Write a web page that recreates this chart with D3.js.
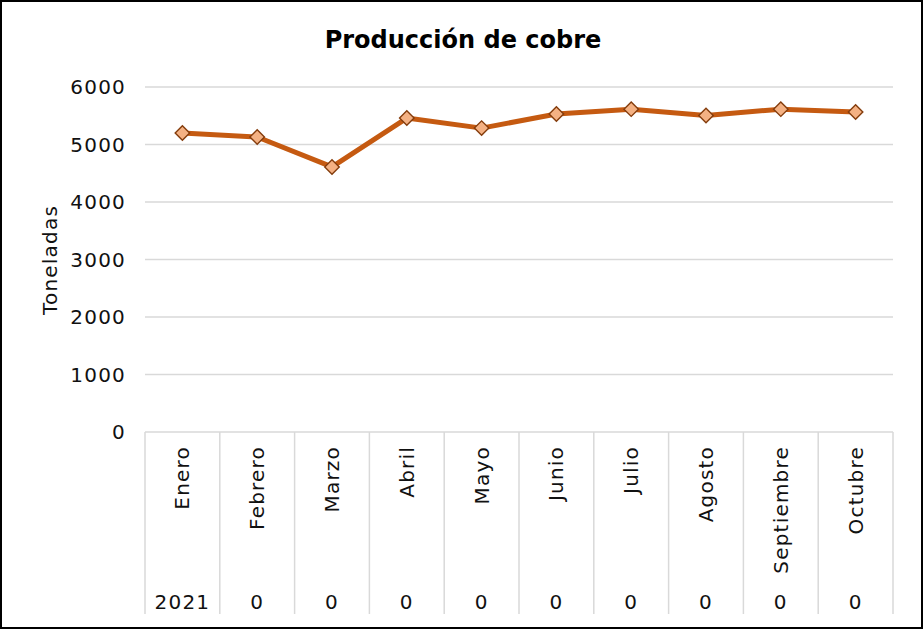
<!DOCTYPE html>
<html>
<head>
<meta charset="utf-8">
<script src="https://cdn.jsdelivr.net/npm/d3@7"></script>
<style>
    body { margin: 0; background: #fff; }
    svg { display: block; font-family: "DejaVu Sans", sans-serif; }
</style>
</head>
<body>
<div id="chart"></div>
<script>
const months = ["Enero", "Febrero", "Marzo", "Abril", "Mayo", "Junio", "Julio", "Agosto", "Septiembre", "Octubre"]
const years = ["2021", "0", "0", "0", "0", "0", "0", "0", "0", "0"]
const production = [5200, 5130, 4610, 5460, 5285, 5530, 5615, 5505, 5615, 5565]
const yTicks = [0, 1000, 2000, 3000, 4000, 5000, 6000]

const width = 923,
    height = 629,
    margin = {left: 145, right: 30, top: 87, bottom: 197}

let svg = d3.select("#chart")
    .append("svg")
    .attr("width", width)
    .attr("height", height)

svg.append("rect")
    .attr("x", 1)
    .attr("y", 1)
    .attr("width", width - 2)
    .attr("height", height - 2)
    .attr("fill", "#fff")
    .attr("stroke", "#000")
    .attr("stroke-width", 2)

let x = d3.scaleBand()
    .domain(months)
    .range([margin.left, width - margin.right])

let y = d3.scaleLinear()
    .domain([0, 6000])
    .range([height - margin.bottom, margin.top])

// gridlines
svg.append("g")
    .selectAll("line")
    .data(yTicks)
    .join("line")
    .attr("x1", margin.left)
    .attr("x2", width - margin.right)
    .attr("y1", d => y(d))
    .attr("y2", d => y(d))
    .attr("stroke", "#d9d9d9")
    .attr("stroke-width", 1.5)

// y labels
svg.append("g")
    .selectAll("text")
    .data(yTicks)
    .join("text")
    .attr("x", 126)
    .attr("y", d => y(d))
    .attr("dy", "0.35em")
    .attr("text-anchor", "end")
    .attr("font-size", 20)
    .attr("letter-spacing", 1.2)
    .attr("fill", "#111")
    .text(d => d)

// category separators
let bounds = months.map(m => x(m)).concat([x(months[months.length - 1]) + x.bandwidth()])

svg.append("g")
    .selectAll("line")
    .data(bounds)
    .join("line")
    .attr("x1", d => d)
    .attr("x2", d => d)
    .attr("y1", y(0))
    .attr("y2", 614)
    .attr("stroke", "#d9d9d9")
    .attr("stroke-width", 1.5)

// month labels
svg.append("g")
    .selectAll("text")
    .data(months)
    .join("text")
    .attr("transform", d => `translate(${x(d) + x.bandwidth() / 2},446) rotate(-90)`)
    .attr("dy", "0.35em")
    .attr("text-anchor", "end")
    .attr("font-size", 20)
    .attr("letter-spacing", 1.2)
    .attr("fill", "#111")
    .text(d => d)

// year row
svg.append("g")
    .selectAll("text")
    .data(years)
    .join("text")
    .attr("x", (d, i) => x(months[i]) + x.bandwidth() / 2)
    .attr("y", 609)
    .attr("text-anchor", "middle")
    .attr("font-size", 20)
    .attr("letter-spacing", 1.2)
    .attr("fill", "#111")
    .text(d => d)

// line
let line = d3.line()
    .x((d, i) => x(months[i]) + x.bandwidth() / 2)
    .y(d => y(d))

svg.append("path")
    .datum(production)
    .attr("d", line)
    .attr("fill", "none")
    .attr("stroke", "#C55A11")
    .attr("stroke-width", 5)
    .attr("stroke-linejoin", "round")

svg.append("g")
    .selectAll("path")
    .data(production)
    .join("path")
    .attr("d", d3.symbol(d3.symbolSquare, 105))
    .attr("transform", (d, i) => `translate(${x(months[i]) + x.bandwidth() / 2},${y(d)}) rotate(45)`)
    .attr("fill", "#F4B183")
    .attr("stroke", "#843C0C")
    .attr("stroke-width", 1.4)

// title
svg.append("text")
    .attr("x", 463)
    .attr("y", 48)
    .attr("text-anchor", "middle")
    .attr("font-size", 24)
    .attr("font-weight", "bold")
    .attr("fill", "#000")
    .text("Producción de cobre")

svg.append("text")
    .attr("transform", "translate(50,260) rotate(-90)")
    .attr("dy", "0.35em")
    .attr("text-anchor", "middle")
    .attr("font-size", 20)
    .attr("letter-spacing", 1.2)
    .attr("fill", "#111")
    .text("Toneladas")
</script>
</body>
</html>
